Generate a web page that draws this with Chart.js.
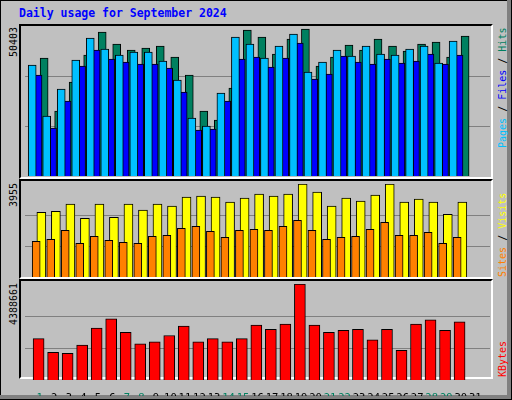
<!DOCTYPE html>
<html><head><meta charset="utf-8">
<script src="https://cdn.jsdelivr.net/npm/chart.js@4"></script>
<style>
body{margin:0;background:#fff}
#wrap{position:relative;width:512px;height:400px;background:#c0c0c0;overflow:hidden;font-family:"DejaVu Sans Mono",monospace}
.abs{position:absolute}
.frame{position:absolute;box-sizing:border-box;border-top:2px solid #000;border-left:2px solid #000;border-right:2px solid #fff;border-bottom:2px solid #fff}
.vt{position:absolute;writing-mode:vertical-rl;transform:rotate(180deg);font-size:10px;white-space:nowrap;width:12px}
canvas{position:absolute}
</style></head><body>
<div id="wrap">
  <div class="abs" style="left:0;top:0;width:512px;height:1px;background:#000"></div>
  <div class="abs" style="left:0;top:0;width:1px;height:400px;background:#000"></div>
  <div class="abs" style="right:0;top:0;width:5px;height:400px;background:#808080"></div>
  <div class="abs" style="left:0;bottom:0;width:512px;height:5px;background:#808080"></div>
  <div class="abs" style="right:0;top:0;width:1px;height:400px;background:#000"></div>
  <div class="abs" style="left:0;bottom:0;width:512px;height:1px;background:#000"></div>
  <div class="abs" style="left:19px;top:6px;color:#0000ff;font-weight:bold;font-size:11.5px">Daily usage for September 2024</div>

  <div class="frame" style="left:19px;top:24px;width:474px;height:155px"></div>
  <div class="frame" style="left:19px;top:179px;width:474px;height:100px"></div>
  <div class="frame" style="left:19px;top:279px;width:474px;height:100px"></div>

  <div class="vt" style="left:8px;top:27px;height:120px;text-align:end;color:#000">50403</div>
  <div class="vt" style="left:8px;top:183px;height:80px;text-align:end;color:#000">3955</div>
  <div class="vt" style="left:8px;top:283px;height:80px;text-align:end;color:#000">4388661</div>

  <div class="vt" style="left:497px;top:28px;height:148px;text-align:end"><span style="color:#00c0ff">Pages</span> / <span style="color:#0000ff">Files</span> / <span style="color:#008060">Hits</span></div>
  <div class="vt" style="left:497px;top:183px;height:94px;text-align:start"><span style="color:#ff8000">Sites</span> / <span style="color:#ffff00">Visits</span></div>
  <div class="vt" style="left:497px;top:283px;height:94px;text-align:start"><span style="color:#ff0000">KBytes</span></div>

  <canvas id="c1" width="465" height="150" style="left:25px;top:26px"></canvas>
  <canvas id="c2" width="465" height="93" style="left:25px;top:184px"></canvas>
  <canvas id="c3" width="465" height="112" style="left:25px;top:284px"></canvas>
</div>
<script>
const days = Array.from({length:31},(_,i)=>i+1);
const weekendDays = [1,7,8,14,15,21,22,28,29];
const hits  = [39648,21840,31584,40656,48384,44352,42336,43008,43680,39984,33936,21840,18816,29568,49056,46704,40992,46032,49392,36960,39984,44016,42336,46032,43680,42000,44352,45024,39984,47040];
const pages = [37296,20160,29232,38976,46368,42672,40656,41664,41664,38640,32256,19488,16800,27888,46704,44352,39648,43680,47712,34944,38304,42336,40320,43680,40992,40656,42672,43680,37968,45360];
const files = [33936,16128,25200,36960,42336,39312,38304,37632,37632,36288,28224,15456,15792,25200,39312,39984,36624,39648,44688,32592,34272,40320,38304,37632,39312,37968,38640,40992,37632,40656];
const visits= [2755,2798,3098,2498,3098,2541,3098,2841,3098,3012,3398,3441,3398,3184,3355,3527,3441,3527,3955,3612,3012,3355,3227,3484,3955,3184,3312,3184,2670,3184];
const sites = [1513,1598,1984,1427,1727,1555,1470,1427,1727,1770,2070,2155,1941,1684,1984,2027,1984,2155,2412,1984,1598,1684,1727,2027,2327,1770,1770,1898,1427,1684];
const kbytes= [1889000,1264000,1216000,1601000,2370000,2802000,2177000,1649000,1745000,2033000,2466000,1745000,1889000,1745000,1889000,2514000,2322000,2562000,4388661,2514000,2177000,2274000,2322000,1841000,2322000,1360000,2562000,2754000,2274000,2658000];
const maxTop=50403, maxMid=3955, maxBot=4388661;

function pts(arr,shift){return arr.map((v,i)=>({x:days[i]+shift,y:v}));}
function ds(arr,shift,color,w,order){return {data:pts(arr,shift),backgroundColor:color,borderColor:'#000',borderWidth:1,barThickness:w,order:order,borderSkipped:'bottom'};}
function opts(max,showX){
  return {responsive:false,animation:false,devicePixelRatio:1,events:[],
    layout:{padding:0},
    plugins:{legend:{display:false},tooltip:{enabled:false}},
    scales:{
      x:{type:'linear',min:0.5,max:31.5,display:showX,grid:{display:false},border:{display:false},
        afterBuildTicks:s=>{s.ticks=days.map(d=>({value:d}));},
        afterFit:s=>{s.height=showX?16:0;},
        ticks:{padding:4,maxRotation:0,autoSkip:false,font:{family:'DejaVu Sans Mono',size:10.5},
          color:c=>weekendDays.includes(c.tick.value)?'#008060':'#000',
          callback:v=>String(v)}},
      y:{min:0,max:max,display:true,border:{display:false},
        afterBuildTicks:s=>{s.ticks=[{value:max/3},{value:2*max/3}];},
        afterFit:s=>{s.width=0;},
        ticks:{display:false},grid:{color:'#808080',drawTicks:false,lineWidth:1}}
    }};
}
new Chart(document.getElementById('c1'),{type:'bar',data:{datasets:[
  ds(hits,-0.25,'#008060',8,3),ds(files,-0.12,'#0000ff',8,2),ds(pages,0.03,'#00c0ff',8,1)]},options:opts(maxTop,false)});
new Chart(document.getElementById('c2'),{type:'bar',data:{datasets:[
  ds(visits,-0.2,'#ffff00',9,2),ds(sites,0.03,'#ff8000',8,1)]},options:opts(maxMid,false)});
new Chart(document.getElementById('c3'),{type:'bar',data:{datasets:[
  ds(kbytes,-0.08,'#ff0000',11,1)]},options:opts(maxBot,true)});
</script>
</body></html>
